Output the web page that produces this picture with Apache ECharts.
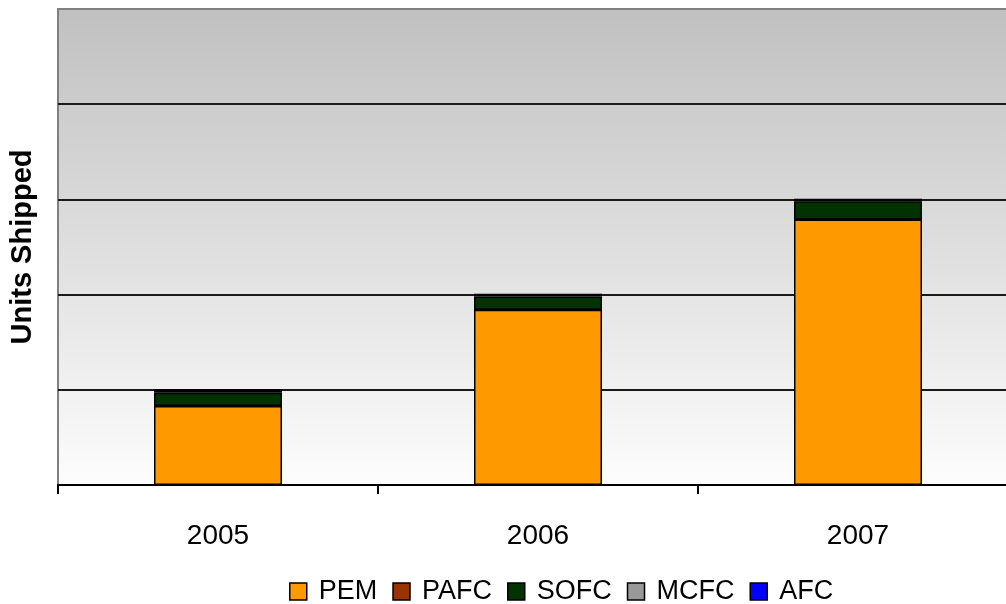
<!DOCTYPE html>
<html>
<head>
<meta charset="utf-8">
<script src="https://cdn.jsdelivr.net/npm/echarts@6/dist/echarts.min.js"></script>
<style>
  html, body { margin: 0; padding: 0; background: #fff; }
  #chart { width: 1006px; height: 604px; }
</style>
</head>
<body>
<div id="chart"></div>
<script>
const years = ['2005', '2006', '2007'];
const pem = [0.83, 1.84, 2.79];
const pafc = [0, 0, 0];
const sofc = [0.14, 0.14, 0.19];
const mcfc = [0.03, 0.02, 0.02];
const afc = [0, 0, 0];

const colors = {
  PEM: '#ff9900',
  PAFC: '#993300',
  SOFC: '#003300',
  MCFC: '#999999',
  AFC: '#0000ff'
};

const mkSeries = (name, data) => ({
  name,
  type: 'bar',
  stack: 'units',
  data,
  barWidth: '40%',
  itemStyle: { color: colors[name], borderColor: '#000', borderWidth: 1.5 },
  emphasis: { disabled: true }
});

const chart = echarts.init(document.getElementById('chart'));
chart.setOption({
  animation: false,
  textStyle: { fontFamily: 'Liberation Sans, Arial, sans-serif' },
  grid: {
    left: 58, top: 9, width: 960, bottom: 119,
    containLabel: false,
    outerBoundsMode: 'none',
    show: true,
    borderColor: '#808080',
    borderWidth: 2,
    backgroundColor: new echarts.graphic.LinearGradient(0, 0, 0, 1, [
      { offset: 0, color: '#c0c0c0' },
      { offset: 1, color: '#fdfdfd' }
    ])
  },
  legend: {
    top: 578,
    left: 289,
    padding: 0,
    icon: 'rect',
    itemWidth: 17,
    itemHeight: 17,
    itemGap: 15,
    textStyle: { fontSize: 27, color: '#000', padding: [0, 0, 0, 7] },
    itemStyle: { borderColor: '#000', borderWidth: 1.5 },
    data: ['PEM', 'PAFC', 'SOFC', 'MCFC', 'AFC']
  },
  xAxis: {
    type: 'category',
    data: years,
    axisLine: { lineStyle: { color: '#000', width: 2 } },
    axisTick: { show: true, length: 9, interval: 0, lineStyle: { color: '#000', width: 2 } },
    axisLabel: { fontSize: 28, color: '#000', margin: 37 }
  },
  yAxis: {
    type: 'value',
    min: 0,
    max: 5,
    interval: 1,
    name: 'Units Shipped',
    nameLocation: 'middle',
    nameGap: 21,
    nameTextStyle: { fontSize: 29, fontWeight: 'bold', color: '#000' },
    axisLine: { show: false },
    axisTick: { show: false },
    axisLabel: { show: false },
    splitLine: { show: true, showMaxLine: false, lineStyle: { color: '#1a1a1a', width: 2 } }
  },
  series: [
    mkSeries('PEM', pem),
    mkSeries('PAFC', pafc),
    mkSeries('SOFC', sofc),
    mkSeries('MCFC', mcfc),
    mkSeries('AFC', afc)
  ]
});
</script>
</body>
</html>
